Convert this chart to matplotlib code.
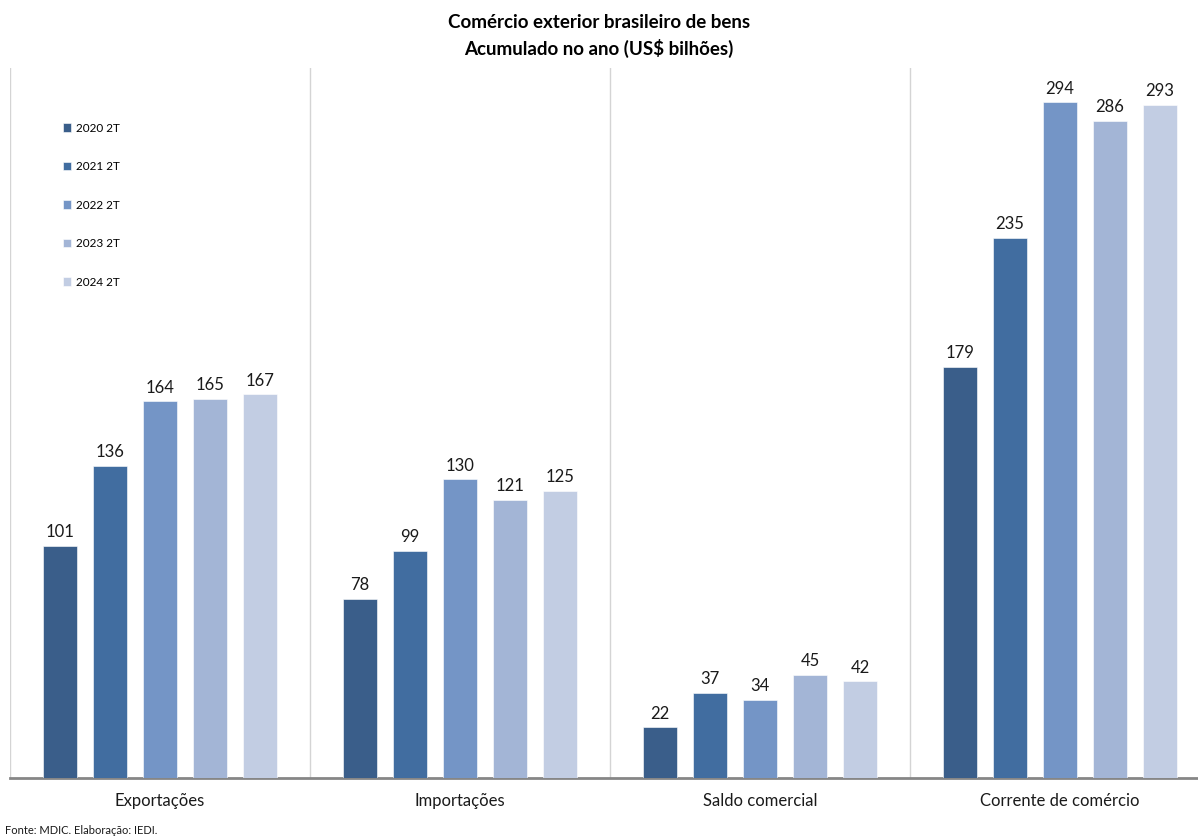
import matplotlib
matplotlib.use("Agg")
import matplotlib.pyplot as plt
import numpy as np

plt.rcParams["font.family"] = ["Lato", "DejaVu Sans"]

# ── Data ──────────────────────────────────────────────────────────────────────
categories = ["Exportações", "Importações", "Saldo comercial", "Corrente de comércio"]
series_labels = ["2020 2T", "2021 2T", "2022 2T", "2023 2T", "2024 2T"]
values = {
    "2020 2T": [101, 78, 22, 179],
    "2021 2T": [136, 99, 37, 235],
    "2022 2T": [164, 130, 34, 294],
    "2023 2T": [165, 121, 45, 286],
    "2024 2T": [167, 125, 42, 293],
}
colors = ["#3A5E8A", "#416DA0", "#7495C6", "#A3B5D6", "#C2CDE3"]

# ── Figure ────────────────────────────────────────────────────────────────────
W, H = 1198, 838
fig = plt.figure(figsize=(W / 100, H / 100), dpi=100)
ax = fig.add_axes([10 / W, (H - 778) / H, 1188 / W, 710 / H])

x = np.arange(len(categories))
step, width = 50 / 300, 34 / 300
for j, (lab, col) in enumerate(zip(series_labels, colors)):
    bars = ax.bar(x + (j - 2) * step, values[lab], width, color=col,
                  edgecolor="white", linewidth=0.4, label=lab, zorder=3)
    for b, v in zip(bars, values[lab]):
        ax.annotate(f"{v}", xy=(b.get_x() + b.get_width() / 2, b.get_height()),
                    xytext=(0, 4), textcoords="offset points",
                    ha="center", va="bottom", fontsize=12, color="#1a1a1a")

ax.set_xlim(-0.5, 3.5 - 12 / 300)
ax.set_ylim(0, 309)

# group separators
for sx in [-0.5, 0.5, 1.5, 2.5]:
    ax.axvline(sx, color="#D4D4D4", linewidth=1, zorder=1)

for s in ["top", "right", "left"]:
    ax.spines[s].set_visible(False)
ax.spines["bottom"].set_color("#868686")
ax.spines["bottom"].set_linewidth(2)
ax.set_yticks([])
ax.set_xticks(x)
ax.set_xticklabels(categories, fontsize=12, color="#1a1a1a")
ax.tick_params(axis="x", length=0, pad=11)

ax.legend(loc="upper left", bbox_to_anchor=(52 / W, (H - 112) / H),
          bbox_transform=fig.transFigure, frameon=False, fontsize=8.5,
          handlelength=0.75, handleheight=0.75, handletextpad=0.35,
          labelspacing=2.33)

fig.text(0.5, 1 - 22 / H, "Comércio exterior brasileiro de bens",
         ha="center", va="center", fontsize=13.5, fontweight="bold")
fig.text(0.5, 1 - 48 / H, "Acumulado no ano (US$ bilhões)",
         ha="center", va="center", fontsize=13.5, fontweight="bold")
fig.text(5 / W, 1 - 830 / H, "Fonte: MDIC. Elaboração: IEDI.",
         ha="left", va="center", fontsize=8, color="#1a1a1a")

fig.savefig("out.png", dpi=100, facecolor="white")
plt.close()
